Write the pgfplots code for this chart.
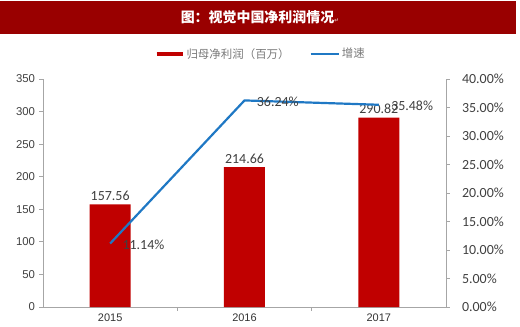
\documentclass[border=0pt]{standalone}
\usepackage{fontspec}
\setmainfont{Liberation Sans}
\newfontfamily\calfont{Carlito}
\newfontfamily\cjk{Noto Sans CJK SC}
\newfontfamily\dv{DejaVu Sans}
\usepackage{pgfplots}
\pgfplotsset{compat=1.18}
\definecolor{barred}{HTML}{C00000}
\definecolor{titlered}{HTML}{990000}
\definecolor{lineblue}{HTML}{1F78C4}
\definecolor{axgray}{HTML}{A6A6A6}
\definecolor{txtgray}{HTML}{404040}
\begin{document}
\begin{tikzpicture}
\useasboundingbox (-43bp,-20bp) rectangle (477bp,307bp);
\fill[titlered] (-43bp,273bp) rectangle (473bp,306bp);
\node[text=white,font=\cjk\bfseries\fontsize{14}{16}\selectfont] at (217bp,290bp) {图：视觉中国净利润情况\textcolor{white!70!titlered}{\dv\fontsize{6}{7}\selectfont ↵}};
\begin{axis}[
  at={(0,0)}, anchor=south west, scale only axis,
  width=403bp, height=228bp,
  xmin=-0.5, xmax=2.5, ymin=0, ymax=350,
  ytick={0,50,...,350},
  xtick={0.5,1.5}, xticklabels={},
  extra x ticks={0,1,2}, extra x tick labels={2015,2016,2017},
  extra x tick style={major tick length=0pt, tick label style={font=\fontsize{11}{13}\selectfont, text=txtgray!80!black}},
  axis x line*=bottom, axis y line*=left,
  axis line style={axgray, line width=0.8bp},
  every tick/.style={axgray, line width=0.8bp},
  tick align=outside, major tick length=3.5bp,
  tick label style={font=\fontsize{11.4}{13}\selectfont, text=txtgray},
  /pgf/number format/assume math mode=true,
  yticklabel style={xshift=-1bp},
  xticklabel style={yshift=-3bp},
  ybar, bar width=41bp,
  nodes near coords,
  every node near coord/.append style={font=\calfont\fontsize{14}{16}\selectfont, text=txtgray, /pgf/number format/.cd, fixed, fixed zerofill, precision=2, assume math mode=true},
  legend style={at={(0.54,1.11)}, anchor=center, draw=none, fill=none, legend columns=2,
    font=\cjk\fontsize{11.5}{13}\selectfont, text=txtgray!70,
    /tikz/every even column/.append style={column sep=18bp}},
  clip=false,
]
\addplot[fill=barred, draw=none,
  legend image code/.code={\draw[barred, line width=4bp] (0bp,0bp) -- (26bp,0bp);}]
  coordinates {(0,157.56) (1,214.66) (2,290.82)};
\addlegendentry{归母净利润（百万）}
\addlegendimage{lineblue, line width=2bp, legend image code/.code={\draw[lineblue, line width=2.2bp] (0bp,0bp) -- (28bp,0bp);}}
\addlegendentry{增速}
\end{axis}
\begin{axis}[
  at={(0,0)}, anchor=south west, scale only axis,
  width=403bp, height=228bp,
  xmin=-0.5, xmax=2.5, ymin=0, ymax=40,
  ytick={0,5,...,40},
  axis x line=none, axis y line*=right,
  axis line style={axgray, line width=0.8bp},
  every tick/.style={axgray, line width=0.8bp},
  tick align=outside, major tick length=3.5bp,
  yticklabel={\pgfmathprintnumber[fixed,fixed zerofill,precision=2]{\tick}\%},
  yticklabel style={font=\calfont\fontsize{14}{16}\selectfont, text=txtgray, xshift=9bp},
  /pgf/number format/assume math mode=true,
  clip=false,
]
\addplot[lineblue, line width=2.2bp, mark=none,
  nodes near coords={\pgfmathprintnumber[fixed,fixed zerofill,precision=2,assume math mode=true]{\pgfplotspointmeta}\%},
  every node near coord/.style={anchor=west, xshift=8bp, yshift=-1bp, font=\calfont\fontsize{14}{16}\selectfont, text=txtgray}]
  coordinates {(0,11.14) (1,36.24) (2,35.48)};
\end{axis}
\end{tikzpicture}
\end{document}
